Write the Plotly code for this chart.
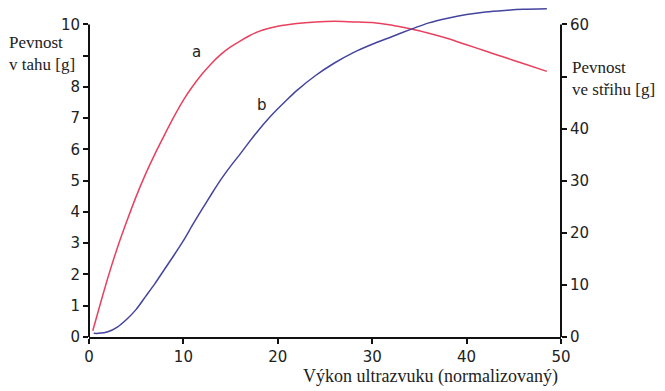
import plotly.graph_objects as go

# Data
x_a = [0.4, 1, 2, 3, 4, 5, 6, 7, 8, 9, 10, 11, 12, 13, 14, 15, 16, 17, 18, 20, 22, 24, 26,
       28, 30, 32, 34, 36, 38, 40, 42, 44, 46, 48.5]
a_vals = [0.2, 0.85, 1.9, 2.85, 3.7, 4.5, 5.22, 5.87, 6.47, 7.05, 7.58, 8.03, 8.42, 8.76,
          9.05, 9.28, 9.47, 9.64, 9.78, 9.94, 10.03, 10.08, 10.1, 10.08, 10.06, 9.98, 9.86,
          9.72, 9.55, 9.35, 9.15, 8.95, 8.75, 8.5]
x_b = [0.5, 1, 2, 3, 4, 5, 6, 7, 8, 9, 10, 11, 12, 13, 14, 15, 16, 17, 18, 19, 20, 21, 22,
       24, 26, 28, 30, 32, 34, 36, 38, 40, 42, 44, 46, 48.5]
b_vals = [0.7, 0.7, 1.0, 1.9, 3.4, 5.3, 7.8, 10.3, 13.0, 15.7, 18.5, 21.6, 24.6, 27.5,
          30.3, 32.8, 35.1, 37.5, 39.8, 41.9, 43.8, 45.6, 47.3, 50.2, 52.6, 54.6, 56.2,
          57.6, 59.0, 60.3, 61.2, 61.9, 62.4, 62.7, 62.9, 63.0]
x_ticks = [0, 10, 20, 30, 40, 50]
left_ticks = list(range(0, 11))
left_ticktext = ["0", "1", "2", "3", "4", "5", "6", "7", "8", "", "10"]
right_ticks = [0, 10, 20, 30, 40, 50, 60]
right_ticktext = ["0", "10", "20", "30", "40", "", "60"]

RED = "#e8405e"
BLUE = "#44449e"
TXT = "#222222"
TICKFONT = dict(family="DejaVu Sans", size=15, color=TXT)

PH = 329.5  # plot height in px
fig = go.Figure()
fig.add_trace(go.Scatter(x=x_a, y=a_vals, mode="lines",
                         line=dict(color=RED, width=1.5, shape="spline", smoothing=0.6),
                         yaxis="y", showlegend=False))
fig.add_trace(go.Scatter(x=x_b, y=b_vals, mode="lines",
                         line=dict(color=BLUE, width=1.5, shape="spline", smoothing=0.6),
                         yaxis="y2", showlegend=False, cliponaxis=False))

fig.update_layout(
    width=657, height=383,
    margin=dict(l=81, r=104, t=0, b=53.5, pad=0, autoexpand=False),
    paper_bgcolor="white", plot_bgcolor="white",
    xaxis=dict(range=[0, 50], tickvals=x_ticks, showgrid=False, zeroline=False,
               showline=True, linecolor="#111111", linewidth=2, automargin=False,
               ticks="outside", ticklen=5, tickwidth=2, tickcolor="#111111",
               tickfont=TICKFONT),
    yaxis=dict(range=[0, 10.527], tickvals=left_ticks, ticktext=left_ticktext,
               showgrid=False, zeroline=False, showline=False, automargin=False,
               ticks="outside", ticklen=5, tickwidth=2, tickcolor="#111111",
               tickfont=TICKFONT),
    yaxis2=dict(range=[0, 63.16], tickvals=right_ticks, ticktext=right_ticktext,
                overlaying="y", side="right", anchor="x", automargin=False,
                showgrid=False, zeroline=False, showline=False,
                ticks="outside", ticklen=5, tickwidth=2, tickcolor="#111111",
                tickfont=TICKFONT),
    shapes=[
        dict(type="line", xref="paper", yref="y", x0=0, x1=0, y0=0, y1=10,
             line=dict(color="#111111", width=2)),
        dict(type="line", xref="paper", yref="y", x0=1, x1=1, y0=0, y1=10,
             line=dict(color="#111111", width=2)),
    ],
    annotations=[
        dict(text="Pevnost<br>v tahu [g]", xref="paper", yref="paper",
             x=-82 / 472, y=(337.5 - 31) / PH, xanchor="left", yanchor="top",
             align="left", showarrow=False, font=dict(family="Liberation Serif", size=17, color=TXT)),
        dict(text="Pevnost<br>ve střihu [g]", xref="paper", yref="paper",
             x=(570 - 89) / 472, y=(337.5 - 56) / PH, xanchor="left", yanchor="top",
             align="left", showarrow=False, font=dict(family="Liberation Serif", size=17, color=TXT)),
        dict(text="Výkon ultrazvuku (normalizovaný)", xref="paper", yref="paper",
             x=(560 - 89) / 472, y=(337.5 - 377) / PH, xanchor="right", yanchor="middle",
             showarrow=False, font=dict(family="Liberation Serif", size=18, color=TXT)),
        dict(text="a", xref="x", yref="y", x=11.4, y=9.13, showarrow=False,
             font=dict(family="DejaVu Sans", size=15, color=TXT)),
        dict(text="b", xref="x", yref="y", x=18.3, y=7.43, showarrow=False,
             font=dict(family="DejaVu Sans", size=15, color=TXT)),
    ],
)

fig.write_html("out.html")
